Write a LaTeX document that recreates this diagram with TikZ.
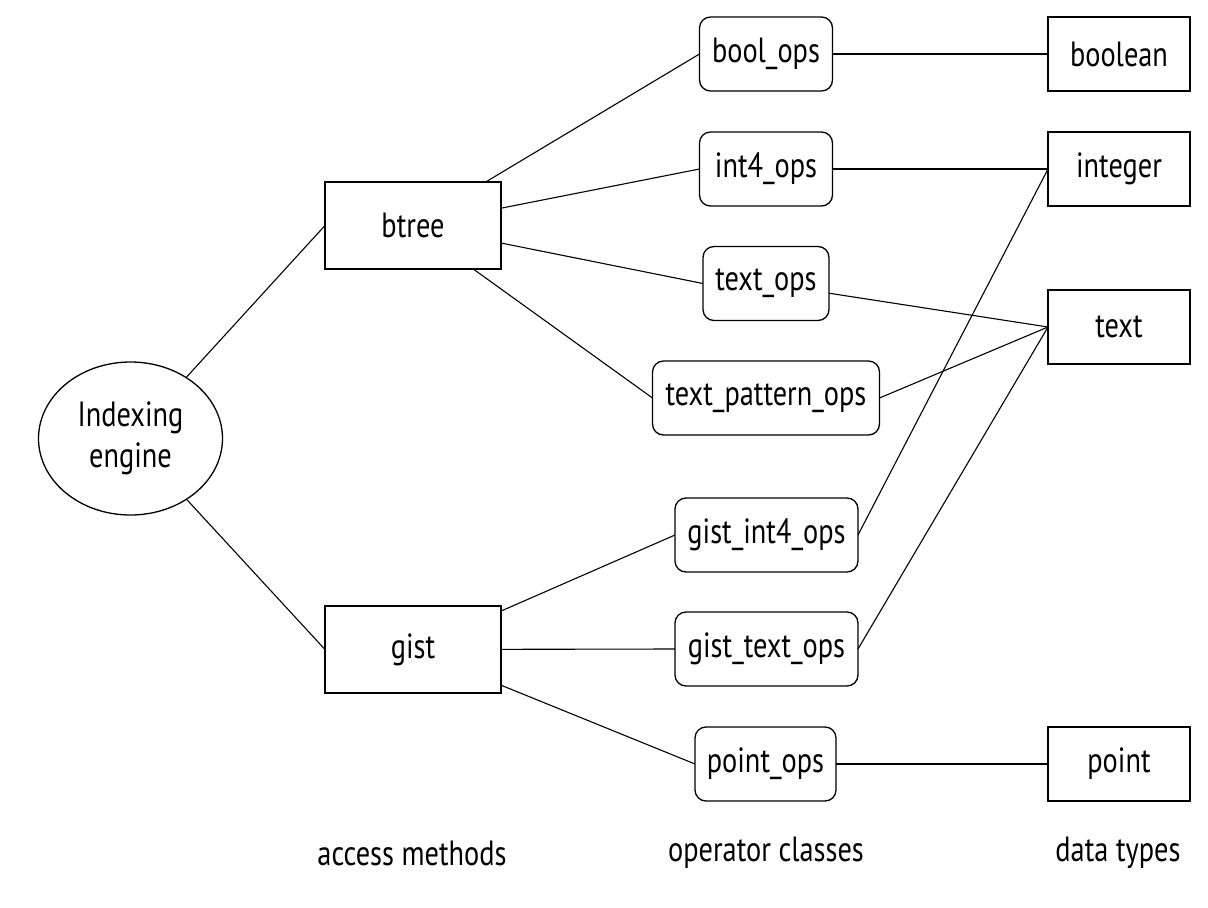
\documentclass[tikz,border=0pt]{standalone}
\usepackage{fontspec}
\setmainfont{PT Sans}[FakeStretch=0.81]
\usetikzlibrary{shapes.geometric}
\begin{document}
\begin{tikzpicture}[x=1pt,y=-1pt,
  every node/.style={font=\fontsize{35}{40}\selectfont, inner sep=0pt, outer sep=0pt},
  box/.style={draw, line width=1.3pt, rectangle, minimum height=74pt},
  amethod/.style={box, minimum width=176pt, minimum height=87pt},
  opclass/.style={box, rounded corners=11pt},
  dtype/.style={box, minimum width=142pt},
  link/.style={line width=1.1pt},
  caption/.style={anchor=center}]
  \useasboundingbox (0,0) rectangle (1208,908);

  % root of the hierarchy
  \node[draw, ellipse, line width=1.3pt, minimum width=184pt, minimum height=153pt,
        align=center, font=\fontsize{35}{41}\selectfont] (engine) at (130.5,438.5) {Indexing\\engine};

  % access methods
  \node[amethod] (btree) at (413,225.5) {btree};
  \node[amethod] (gist)  at (413,649.5) {gist};

  % operator classes
  \node[opclass, minimum width=133pt] (boolops)   at (766,54)    {bool\_ops};
  \node[opclass, minimum width=133pt] (int4ops)   at (766,169)   {int4\_ops};
  \node[opclass, minimum width=126pt] (textops)   at (766,283.5) {text\_ops};
  \node[opclass, minimum width=227pt] (tpatops)   at (766,398)   {text\_pattern\_ops};
  \node[opclass, minimum width=183pt] (gint4ops)  at (766.5,535) {gist\_int4\_ops};
  \node[opclass, minimum width=183pt] (gtextops)  at (766.5,649) {gist\_text\_ops};
  \node[opclass, minimum width=141pt] (pointops)  at (765.5,764) {point\_ops};

  % data types
  \node[dtype] (boolean) at (1119,54)  {boolean};
  \node[dtype] (integer) at (1119,169) {integer};
  \node[dtype] (text)    at (1119,327) {text};
  \node[dtype] (point)   at (1119,764) {point};

  % column captions
  \node[caption] (capam) at (412,853)  {access methods};
  \node[caption] (capoc) at (766,853)  {operator classes};
  \node[caption] (capdt) at (1118,853) {data types};

  % engine to access methods
  \draw[link] (engine) -- (btree.west);
  \draw[link] (engine) -- (gist.west);

  % access methods to operator classes
  \draw[link] (btree) -- (boolops.west);
  \draw[link] (btree) -- (int4ops.west);
  \draw[link] (btree) -- (textops.west);
  \draw[link] (btree) -- (tpatops.west);
  \draw[link] (gist) -- (gint4ops.west);
  \draw[link] (gist) -- (gtextops.west);
  \draw[link] (gist) -- (pointops.west);

  % operator classes to data types
  \draw[link] (boolops.east) -- (boolean.west);
  \draw[link] (int4ops.east) -- (integer.west);
  \draw[link] (textops) -- (text.west);
  \draw[link] (tpatops.east) -- (text.west);
  \draw[link] (gint4ops.east) -- (integer.west);
  \draw[link] (gtextops.east) -- (text.west);
  \draw[link] (pointops.east) -- (point.west);
\end{tikzpicture}
\end{document}
